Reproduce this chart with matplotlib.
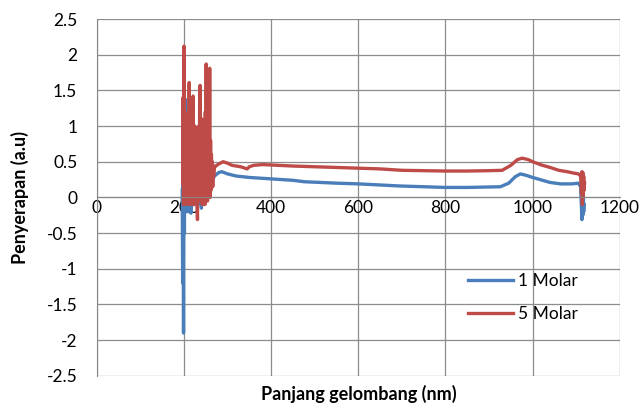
import matplotlib
matplotlib.use("Agg")
import matplotlib.pyplot as plt

plt.rcParams['font.family'] = ['Lato', 'DejaVu Sans']

# 1 Molar (blue)
wl_1 = [196, 197, 198, 199, 200, 201, 202, 203, 204, 205, 206, 207, 208, 209,
        210, 212, 214, 216, 218, 220, 222, 224, 226, 228, 230, 232, 234, 236,
        238, 240, 242, 244, 246, 248, 250, 252, 254, 256, 258, 260, 262, 264,
        266, 270, 280, 287, 300, 320, 350, 400, 450, 476, 550, 600, 697, 750,
        800, 850, 926, 945, 960, 972, 985, 1000, 1020, 1040, 1064, 1090, 1105,
        1110, 1113, 1114, 1115, 1116, 1117, 1118]
abs_1 = [0.1, -1.2, 0.3, -1.9, 0.5, -0.5, 1.0, 0.0, 1.37, -0.1, 0.6, -0.2, 0.4, -0.15,
         0.5, -0.2, 0.6, -0.22, 0.5, 0.0, 0.7, -0.1, 0.5, 0.0, 0.6, -0.1, 0.5, 0.0,
         0.6, -0.15, 0.4, 0.0, 0.5, 0.05, 0.4, 0.1, 0.45, 0.05, 0.4, 0.1, 0.3, 0.15,
         0.25, 0.3, 0.35, 0.36, 0.33, 0.30, 0.28, 0.26, 0.24, 0.22, 0.20, 0.19, 0.16, 0.15,
         0.14, 0.14, 0.15, 0.20, 0.29, 0.33, 0.31, 0.28, 0.245, 0.21, 0.19, 0.19, 0.2,
         0.15, -0.31, 0.0, -0.25, 0.1, -0.2, -0.1]

# 5 Molar (red)
wl_5 = [197, 198, 199, 200, 201, 202, 203, 204, 205, 206, 207, 208, 209, 210,
        211, 212, 213, 214, 215, 216, 217, 218, 219, 220, 221, 222, 223, 224,
        225, 226, 227, 228, 229, 230, 231, 232, 233, 234, 235, 236, 237, 238,
        239, 240, 241, 242, 243, 244, 245, 246, 247, 248, 249, 250, 251, 252,
        253, 254, 255, 256, 257, 258, 259, 260, 261, 262, 263, 264, 265, 266,
        267, 268, 270, 275, 280, 290, 300, 310, 320, 330, 340, 345, 350, 360,
        380, 400, 450, 500, 550, 600, 650, 700, 750, 800, 850, 900, 930, 950,
        965, 976, 990, 1000, 1020, 1040, 1060, 1080, 1095, 1105, 1110, 1112,
        1113, 1114, 1115, 1116, 1117, 1118, 1119]
abs_5 = [0.2, 1.4, -0.1, 2.12, 0.0, 1.2, -0.1, 0.9, 0.1, 1.1, -0.05, 0.8, 0.2, 1.0,
         -0.1, 1.61, 0.0, 0.7, 1.2, -0.1, 0.9, 0.2, 1.1, 0.0, 1.42, -0.1, 0.8, 0.1,
         1.0, -0.05, 0.7, 0.3, 0.9, -0.1, -0.31, 0.6, 0.1, 1.0, -0.05, 1.3, 1.57, 0.0,
         0.8, 0.1, 1.1, -0.1, 0.7, 0.2, 1.0, 0.0, 0.6, -0.1, 1.2, 0.1, 1.87, 0.0,
         0.9, -0.05, 0.7, 0.2, 1.0, 0.1, 1.81, 0.0, 0.8, 0.1, 0.6, 0.2, 0.5, 0.15,
         0.45, 0.3, 0.42, 0.45, 0.47, 0.5, 0.48, 0.45, 0.44, 0.43, 0.41, 0.40, 0.43, 0.45,
         0.46, 0.455, 0.44, 0.43, 0.42, 0.41, 0.40, 0.38, 0.375, 0.37, 0.37, 0.375, 0.38, 0.45,
         0.53, 0.55, 0.53, 0.50, 0.455, 0.42, 0.38, 0.36, 0.34, 0.33, 0.30, 0.05,
         0.36, -0.1, 0.35, 0.0, 0.3, 0.1, 0.2]

x_ticks = [0, 200, 400, 600, 800, 1000, 1200]
y_ticks = [-2.5, -2, -1.5, -1, -0.5, 0, 0.5, 1, 1.5, 2, 2.5]

fig = plt.figure(figsize=(6.41, 4.05), dpi=100)
ax = fig.add_axes([0.151, 0.072, 0.816, 0.881])

ax.plot(wl_1, abs_1, color='#4A7EBB', lw=2.4, label='1 Molar')
ax.plot(wl_5, abs_5, color='#BE4B48', lw=2.4, label='5 Molar')

ax.set_xlim(0, 1200)
ax.set_ylim(-2.5, 2.5)
ax.set_xticks(x_ticks)
ax.set_yticks(y_ticks)
ax.set_xticklabels([str(t) for t in x_ticks])
ax.set_yticklabels([('%g' % t) for t in y_ticks])
ax.grid(True, color='#8C8C8C', lw=0.9)
ax.set_axisbelow(True)

for s in ['top', 'right']:
    ax.spines[s].set_visible(False)
ax.spines['left'].set_color('#868686')
ax.spines['bottom'].set_position(('data', 0))
ax.spines['bottom'].set_color('#868686')
ax.tick_params(axis='both', length=0, labelsize=12.5)
ax.tick_params(axis='x', pad=2)
ax.tick_params(axis='y', pad=14)

ax.set_xlabel('Panjang gelombang (nm)', fontsize=13, fontweight='bold')
ax.set_ylabel('Penyerapan (a.u)', fontsize=13, fontweight='bold')
ax.xaxis.set_label_coords(0.5, -0.025)
ax.yaxis.set_label_coords(-0.13, 0.5)

ax.legend(loc='center left', bbox_to_anchor=(0.68, 0.22), frameon=False,
          fontsize=12.5, handlelength=2.6, labelspacing=1.0, handletextpad=0.3)

fig.savefig('out.png', dpi=100)
